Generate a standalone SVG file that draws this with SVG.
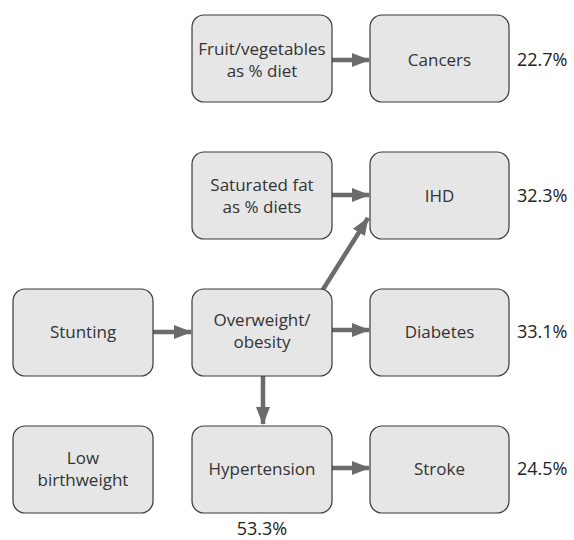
<svg xmlns="http://www.w3.org/2000/svg" width="574" height="540" viewBox="0 0 574 540">
<style>
.box{fill:#e6e6e6;stroke:#3a3a3a;stroke-width:1.2}
text{font-family:"Open Sans","Noto Sans",sans-serif;font-size:17px;fill:#333;text-anchor:middle}
.pct{text-anchor:start;font-size:18px;font-weight:500;fill:#222}
.c{stroke:#6b6b6b;stroke-width:4.5;fill:none}
</style>
<defs>
<marker id="ah" markerUnits="userSpaceOnUse" markerWidth="18" markerHeight="16" viewBox="0 0 18 16" refX="17" refY="8" orient="auto">
<path d="M0,1 L18,8 L0,15 Z" fill="#6b6b6b"/>
</marker>
</defs>
<g id="connectors">
<line class="c" x1="332" y1="60" x2="369" y2="60" marker-end="url(#ah)"/>
<line class="c" x1="332" y1="195" x2="369" y2="195" marker-end="url(#ah)"/>
<line class="c" x1="153" y1="332" x2="191" y2="332" marker-end="url(#ah)"/>
<line class="c" x1="332" y1="330" x2="369" y2="330" marker-end="url(#ah)"/>
<line class="c" x1="322" y1="291" x2="368" y2="218" marker-end="url(#ah)"/>
<line class="c" x1="263" y1="376" x2="263" y2="424" marker-end="url(#ah)"/>
<line class="c" x1="332" y1="468" x2="369" y2="468" marker-end="url(#ah)"/>
</g>
<g id="fruit"><rect class="box" x="192" y="15" width="140" height="87" rx="12"/><text x="262" y="55">Fruit/vegetables</text><text x="262" y="77">as % diet</text></g>
<g id="cancers"><rect class="box" x="370" y="15" width="139" height="87" rx="12"/><text x="439.5" y="66">Cancers</text></g>
<text class="pct" x="517" y="66">22.7%</text>
<g id="satfat"><rect class="box" x="192" y="152" width="140" height="87" rx="12"/><text x="262" y="191">Saturated fat</text><text x="262" y="213">as % diets</text></g>
<g id="ihd"><rect class="box" x="370" y="152" width="139" height="87" rx="12"/><text x="439.5" y="202">IHD</text></g>
<text class="pct" x="517" y="202">32.3%</text>
<g id="stunting"><rect class="box" x="13" y="289" width="140" height="87" rx="12"/><text x="83" y="338">Stunting</text></g>
<g id="overweight"><rect class="box" x="192" y="289" width="140" height="87" rx="12"/><text x="262" y="326">Overweight/</text><text x="262" y="348">obesity</text></g>
<g id="diabetes"><rect class="box" x="370" y="289" width="139" height="87" rx="12"/><text x="439.5" y="338">Diabetes</text></g>
<text class="pct" x="517" y="338">33.1%</text>
<g id="lowbw"><rect class="box" x="13" y="426" width="140" height="87" rx="12"/><text x="83" y="464">Low</text><text x="83" y="486">birthweight</text></g>
<g id="hypertension"><rect class="box" x="192" y="426" width="140" height="87" rx="12"/><text x="262" y="475">Hypertension</text></g>
<text class="pct" x="262" y="535" style="text-anchor:middle">53.3%</text>
<g id="stroke"><rect class="box" x="370" y="426" width="139" height="87" rx="12"/><text x="439.5" y="475">Stroke</text></g>
<text class="pct" x="517" y="475">24.5%</text>
</svg>
